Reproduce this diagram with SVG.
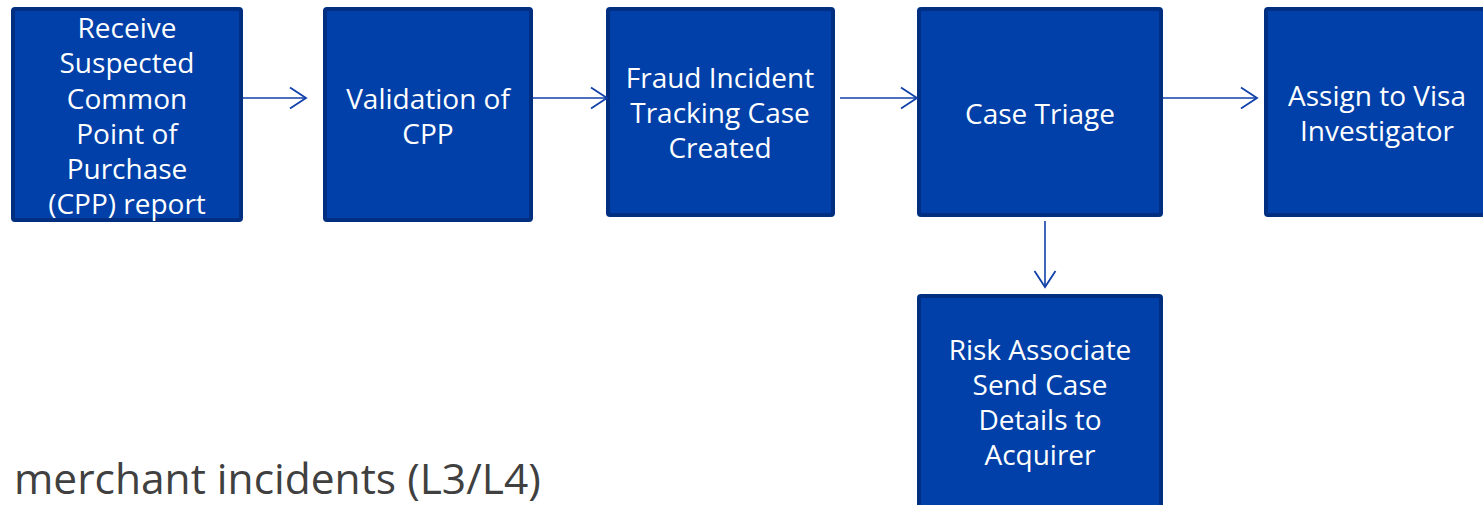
<svg xmlns="http://www.w3.org/2000/svg" width="1483" height="505" viewBox="0 0 1483 505">
<style>
.box{fill:#0040A8;stroke:#002E80;stroke-width:4}
.t{font-family:"Open Sans","Noto Sans",sans-serif;font-size:28px;fill:#ffffff;text-anchor:middle}
.c{stroke:#1040A8;stroke-width:1.6;fill:none;marker-end:url(#ah)}
.cap{font-family:"Open Sans","Noto Sans",sans-serif;font-size:42.5px;fill:#404040}
</style>
<defs>
<marker id="ah" markerWidth="24" markerHeight="26" refX="19" refY="13" orient="auto" markerUnits="userSpaceOnUse">
<path d="M3,2.5 L19,13 L3,23.5" fill="none" stroke="#1040A8" stroke-width="1.8"/>
</marker>
</defs>
<rect width="1483" height="505" fill="#ffffff"/>
<g id="n1">
<rect class="box" x="13" y="9" width="228" height="211" rx="2"/>
<text class="t"><tspan x="127" y="38">Receive</tspan><tspan x="127" y="73">Suspected</tspan><tspan x="127" y="109">Common</tspan><tspan x="127" y="144">Point of</tspan><tspan x="127" y="179">Purchase</tspan><tspan x="127" y="214">(CPP) report</tspan></text>
</g>
<g id="n2">
<rect class="box" x="325" y="9" width="206" height="211" rx="2"/>
<text class="t"><tspan x="428" y="109">Validation of</tspan><tspan x="428" y="144">CPP</tspan></text>
</g>
<g id="n3">
<rect class="box" x="608" y="9" width="225" height="206" rx="2"/>
<text class="t"><tspan x="720" y="88">Fraud Incident</tspan><tspan x="720" y="123">Tracking Case</tspan><tspan x="720" y="158">Created</tspan></text>
</g>
<g id="n4">
<rect class="box" x="919" y="9" width="242" height="206" rx="2"/>
<text class="t"><tspan x="1040" y="124">Case Triage</tspan></text>
</g>
<g id="n5">
<rect class="box" x="1266" y="9" width="230" height="206" rx="2"/>
<text class="t"><tspan x="1377" y="106">Assign to Visa</tspan><tspan x="1377" y="141">Investigator</tspan></text>
</g>
<g id="n6">
<rect class="box" x="919" y="296" width="242" height="220" rx="2"/>
<text class="t"><tspan x="1040" y="360">Risk Associate</tspan><tspan x="1040" y="395">Send Case</tspan><tspan x="1040" y="430">Details to</tspan><tspan x="1040" y="465">Acquirer</tspan></text>
</g>
<g id="connectors">
<line class="c" x1="243" y1="98" x2="306" y2="98"/>
<line class="c" x1="533" y1="98" x2="607" y2="98"/>
<line class="c" x1="840" y1="98" x2="917" y2="98"/>
<line class="c" x1="1163" y1="98" x2="1257" y2="98"/>
<line class="c" x1="1045" y1="221" x2="1045" y2="287"/>
</g>
<text class="cap" x="14" y="494">merchant incidents (L3/L4)</text>
</svg>
